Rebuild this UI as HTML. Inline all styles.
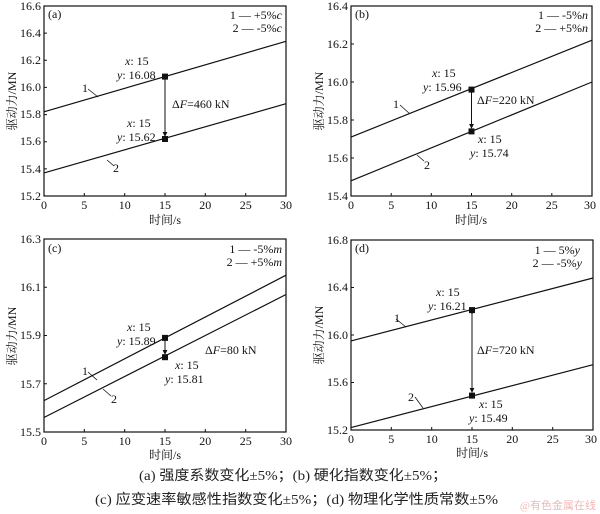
<!DOCTYPE html>
<html><head><meta charset="utf-8"><style>
body{margin:0;background:#fff;}
svg{display:block;}
text{font-family:"Liberation Serif","Noto Serif CJK SC",serif;}
.t{font-size:12px;fill:#111;}
text.c,.c text{font-family:"Liberation Serif","Noto Sans CJK SC",serif;}
</style></head><body>
<svg width="600" height="514" viewBox="0 0 600 514">
<defs>
<marker id="ar" viewBox="0 0 6 6" refX="5" refY="3" markerWidth="5" markerHeight="5" orient="auto"><path d="M0,0L6,3L0,6z" fill="#111"/></marker>
</defs>
<g stroke="#111" fill="none" stroke-width="1.2">
<rect x="44" y="6" width="242" height="190"/>
<rect x="351" y="6" width="241" height="190"/>
<rect x="44" y="239" width="242" height="193"/>
<rect x="351" y="240" width="242" height="190"/>
<line x1="44" y1="111.8" x2="286" y2="41.3"/>
<line x1="44" y1="172.9" x2="286" y2="103.7"/>
<line x1="165" y1="80" x2="165" y2="136" marker-start="url(#ar)" marker-end="url(#ar)" stroke-width="1"/>
<line x1="88" y1="89" x2="98" y2="97" stroke-width="0.8"/>
<line x1="107" y1="160" x2="114" y2="166" stroke-width="0.8"/>
<line x1="351" y1="137.1" x2="592" y2="40.2"/>
<line x1="351" y1="180.8" x2="592" y2="82"/>
<line x1="471.5" y1="93" x2="471.5" y2="128" marker-start="url(#ar)" marker-end="url(#ar)" stroke-width="1"/>
<line x1="400" y1="105" x2="410" y2="114" stroke-width="0.8"/>
<line x1="417" y1="155" x2="424" y2="161" stroke-width="0.8"/>
<line x1="44" y1="400.6" x2="286" y2="275.2"/>
<line x1="44" y1="417.5" x2="286" y2="294.5"/>
<line x1="165" y1="341" x2="165" y2="354" marker-start="url(#ar)" marker-end="url(#ar)" stroke-width="1"/>
<line x1="88" y1="372" x2="97" y2="380" stroke-width="0.8"/>
<line x1="103" y1="389" x2="111" y2="396" stroke-width="0.8"/>
<line x1="351" y1="340.9" x2="593" y2="278"/>
<line x1="351" y1="427.6" x2="593" y2="364.7"/>
<line x1="472" y1="314" x2="472" y2="392" marker-start="url(#ar)" marker-end="url(#ar)" stroke-width="1"/>
<line x1="396" y1="319" x2="406" y2="327" stroke-width="0.8"/>
<line x1="415" y1="397" x2="423" y2="408" stroke-width="0.8"/>
<path stroke-width="1" d="M84.3,196v-3M124.7,196v-3M165,196v-3M205.3,196v-3M245.7,196v-3
M44,33.1h3M44,60.3h3M44,87.4h3M44,114.6h3M44,141.7h3M44,168.9h3
M391.2,196v-3M431.3,196v-3M471.5,196v-3M511.7,196v-3M551.8,196v-3
M351,44h3M351,82h3M351,120h3M351,158h3
M84.3,432v-3M124.7,432v-3M165,432v-3M205.3,432v-3M245.7,432v-3
M44,287.25h3M44,335.5h3M44,383.75h3
M391.3,430v-3M431.7,430v-3M472,430v-3M512.3,430v-3M552.7,430v-3
M351,287.5h3M351,335h3M351,382.5h3"/>
</g>
<g fill="#111">
<rect x="162" y="73.6" width="6" height="6"/><rect x="162" y="136" width="6" height="6"/>
<rect x="468.5" y="86.6" width="6" height="6"/><rect x="468.5" y="128.4" width="6" height="6"/>
<rect x="162" y="334.9" width="6" height="6"/><rect x="162" y="354.2" width="6" height="6"/>
<rect x="469" y="307.1" width="6" height="6"/><rect x="469" y="392.6" width="6" height="6"/>
</g>
<g class="t" text-anchor="end">
<text x="41" y="10">16.6</text><text x="41" y="37">16.4</text><text x="41" y="64">16.2</text><text x="41" y="91">16.0</text><text x="41" y="118">15.8</text><text x="41" y="145">15.6</text><text x="41" y="173">15.4</text><text x="41" y="200">15.2</text>
<text x="348" y="10">16.4</text><text x="348" y="48">16.2</text><text x="348" y="86">16.0</text><text x="348" y="124">15.8</text><text x="348" y="162">15.6</text><text x="348" y="200">15.4</text>
<text x="41" y="243">16.3</text><text x="41" y="291">16.1</text><text x="41" y="339">15.9</text><text x="41" y="388">15.7</text><text x="41" y="436">15.5</text>
<text x="348" y="244">16.8</text><text x="348" y="291">16.4</text><text x="348" y="339">16.0</text><text x="348" y="386">15.6</text><text x="348" y="434">15.2</text>
</g>
<g class="t" text-anchor="middle">
<text x="44" y="209">0</text><text x="84.3" y="209">5</text><text x="124.7" y="209">10</text><text x="165" y="209">15</text><text x="205.3" y="209">20</text><text x="245.7" y="209">25</text><text x="286" y="209">30</text>
<text x="351" y="209">0</text><text x="391.2" y="209">5</text><text x="431.3" y="209">10</text><text x="471.5" y="209">15</text><text x="511.7" y="209">20</text><text x="551.8" y="209">25</text><text x="590" y="209">30</text>
<text x="44" y="445">0</text><text x="84.3" y="445">5</text><text x="124.7" y="445">10</text><text x="165" y="445">15</text><text x="205.3" y="445">20</text><text x="245.7" y="445">25</text><text x="286" y="445">30</text>
<text x="351" y="443">0</text><text x="391.3" y="443">5</text><text x="431.7" y="443">10</text><text x="472" y="443">15</text><text x="512.3" y="443">20</text><text x="552.7" y="443">25</text><text x="591" y="443">30</text>
<text x="165" y="224">时间/s</text>
<text x="471" y="224">时间/s</text>
<text x="165" y="459">时间/s</text>
<text x="472" y="457">时间/s</text>
<text transform="translate(16,101) rotate(-90)">驱动力/MN</text>
<text transform="translate(323,101) rotate(-90)">驱动力/MN</text>
<text transform="translate(16,336) rotate(-90)">驱动力/MN</text>
<text transform="translate(323,335) rotate(-90)">驱动力/MN</text>
</g>
<g class="t">
<text x="48" y="18">(a)</text><text x="355" y="18">(b)</text><text x="48" y="252">(c)</text><text x="355" y="252">(d)</text>
<text x="282" y="19" text-anchor="end">1 — +5%<tspan font-style="italic">c</tspan></text>
<text x="282" y="32" text-anchor="end">2 — -5%<tspan font-style="italic">c</tspan></text>
<text x="588" y="19" text-anchor="end">1 — -5%<tspan font-style="italic">n</tspan></text>
<text x="588" y="32" text-anchor="end">2 — +5%<tspan font-style="italic">n</tspan></text>
<text x="282" y="253" text-anchor="end">1 — -5%<tspan font-style="italic">m</tspan></text>
<text x="282" y="266" text-anchor="end">2 — +5%<tspan font-style="italic">m</tspan></text>
<text x="580" y="254" text-anchor="end">1 — 5%<tspan font-style="italic">y</tspan></text>
<text x="582" y="267" text-anchor="end">2 — -5%<tspan font-style="italic">y</tspan></text>
<text x="125" y="65"><tspan font-style="italic">x</tspan>: 15</text>
<text x="117" y="79"><tspan font-style="italic">y</tspan>: 16.08</text>
<text x="172" y="108">Δ<tspan font-style="italic">F</tspan>=460 kN</text>
<text x="127" y="127"><tspan font-style="italic">x</tspan>: 15</text>
<text x="117" y="141"><tspan font-style="italic">y</tspan>: 15.62</text>
<text x="82" y="92">1</text><text x="113" y="172">2</text>
<text x="432" y="77"><tspan font-style="italic">x</tspan>: 15</text>
<text x="423" y="91"><tspan font-style="italic">y</tspan>: 15.96</text>
<text x="477" y="104">Δ<tspan font-style="italic">F</tspan>=220 kN</text>
<text x="478" y="143"><tspan font-style="italic">x</tspan>: 15</text>
<text x="470" y="157"><tspan font-style="italic">y</tspan>: 15.74</text>
<text x="393" y="108">1</text><text x="424" y="169">2</text>
<text x="127" y="331"><tspan font-style="italic">x</tspan>: 15</text>
<text x="117" y="345"><tspan font-style="italic">y</tspan>: 15.89</text>
<text x="205" y="354">Δ<tspan font-style="italic">F</tspan>=80 kN</text>
<text x="175" y="369"><tspan font-style="italic">x</tspan>: 15</text>
<text x="165" y="383"><tspan font-style="italic">y</tspan>: 15.81</text>
<text x="82" y="375">1</text><text x="111" y="403">2</text>
<text x="436" y="296"><tspan font-style="italic">x</tspan>: 15</text>
<text x="428" y="310"><tspan font-style="italic">y</tspan>: 16.21</text>
<text x="477" y="354">Δ<tspan font-style="italic">F</tspan>=720 kN</text>
<text x="479" y="408"><tspan font-style="italic">x</tspan>: 15</text>
<text x="469" y="422"><tspan font-style="italic">y</tspan>: 15.49</text>
<text x="394" y="322">1</text><text x="408" y="401">2</text>
</g>
<g class="c" font-size="14" fill="#222">
<text x="139" y="480" textLength="308" lengthAdjust="spacingAndGlyphs">(a) 强度系数变化±5%；(b) 硬化指数变化±5%；</text>
<text x="95" y="504" textLength="403" lengthAdjust="spacingAndGlyphs">(c) 应变速率敏感性指数变化±5%；(d) 物理化学性质常数±5%</text>
</g>
<text x="596" y="509" text-anchor="end" font-size="11" fill="#f0b8b8" class="c">@有色金属在线</text>
</svg>
</body></html>
